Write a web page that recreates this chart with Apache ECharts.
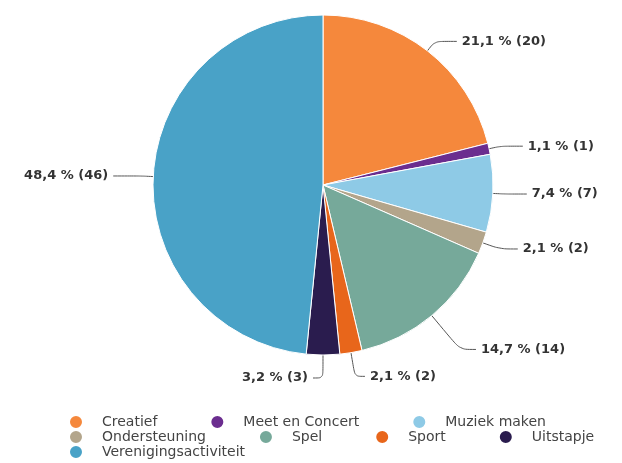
<!DOCTYPE html>
<html><head><meta charset="utf-8">
<script src="https://cdn.jsdelivr.net/npm/echarts@6/dist/echarts.min.js"></script>
<style>html,body{margin:0;padding:0;background:#fff}#c{width:622px;height:463px}</style>
</head><body><div id="c"></div>
<script>
var categories = ["Creatief","Meet en Concert","Muziek maken","Ondersteuning","Spel","Sport","Uitstapje","Verenigingsactiviteit"];
var values = [20,1,7,2,14,2,3,46];
var colors = ["#f5883c","#6b2d8f","#8ecae6","#b3a58b","#76a99a","#e8661b","#2a1c4e","#49a2c7"];
var legendRows = [["Creatief","Meet en Concert","Muziek maken"],["Ondersteuning","Spel","Sport","Uitstapje"],["Verenigingsactiviteit"]];

var lineOverrides = {
  "Ondersteuning": {length:18, length2:18},
  "Spel": {length:44, length2:16},
  "Sport": {length:24, length2:10},
  "Uitstapje": {length:23, length2:10},
  "Verenigingsactiviteit": {length:12, length2:28}
};
var total = values.reduce(function(a,b){return a+b;},0);
var chart = echarts.init(document.getElementById('c'));
var legends = legendRows.map(function(row,i){
  return {
    data: row, left: 63, top: 409 + i*15, orient:'horizontal',
    icon:'circle', itemWidth:14, itemHeight:14, itemGap:52,
    textStyle:{fontFamily:'DejaVu Sans', fontSize:14, color:'#444', padding:[0,0,0,14]}
  };
});
chart.setOption({
  animation:false,
  color: colors,
  legend: legends,
  series:[{
    type:'pie', center:[323,185], radius:170, startAngle:90, clockwise:true,
    itemStyle:{borderColor:'#fff', borderWidth:1},
    label:{show:true, fontFamily:'DejaVu Sans', fontWeight:'bold', fontSize:13, color:'#333',
      formatter:function(p){return (p.value/total*100).toFixed(1).replace('.',',')+' % ('+p.value+')';}},
    labelLine:{show:true, length:12, length2:22, smooth:0.3, lineStyle:{color:'#555', width:1}},
    data: categories.map(function(c,i){
      var d = {name:c, value:values[i]};
      if (lineOverrides[c]) d.labelLine = lineOverrides[c];
      return d;
    })
  }]
});
</script></body></html>
